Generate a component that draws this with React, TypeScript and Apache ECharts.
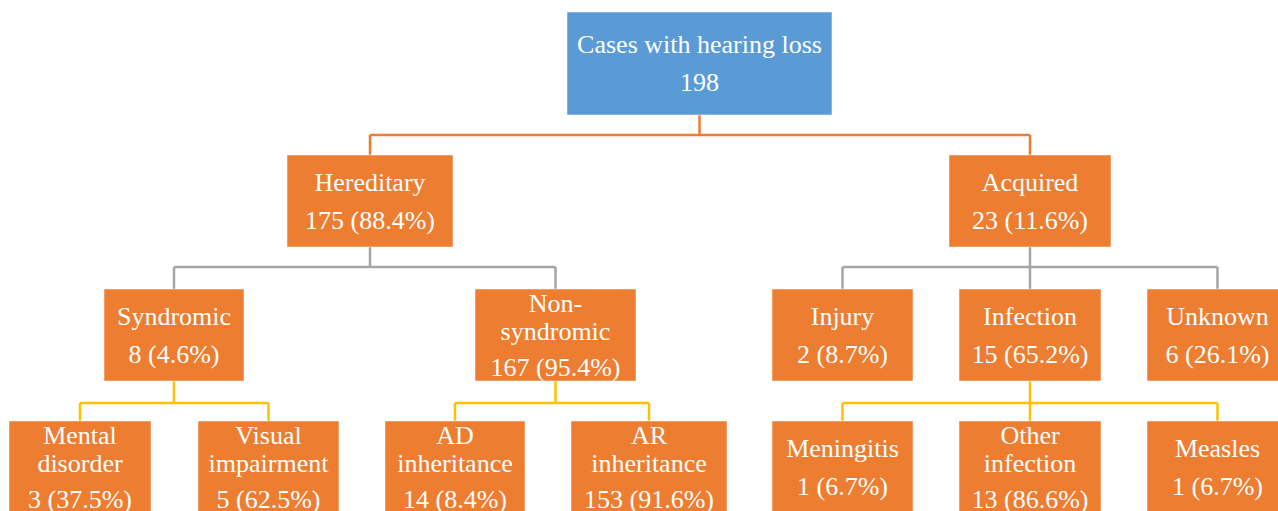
import React, { useEffect, useRef } from "react";
import * as echarts from "echarts";

// ---- data ----
const nodeNames = [
  "Cases with hearing loss",
  "Hereditary",
  "Acquired",
  "Syndromic",
  "Non-\nsyndromic",
  "Injury",
  "Infection",
  "Unknown",
  "Mental\ndisorder",
  "Visual\nimpairment",
  "AD\ninheritance",
  "AR\ninheritance",
  "Meningitis",
  "Other\ninfection",
  "Measles",
];
const nodeCounts = [198, 175, 23, 8, 167, 2, 15, 6, 3, 5, 14, 153, 1, 13, 1];
const nodePercents = [null, 88.4, 11.6, 4.6, 95.4, 8.7, 65.2, 26.1, 37.5, 62.5, 8.4, 91.6, 6.7, 86.6, 6.7];
const nodeParents = [-1, 0, 0, 1, 1, 2, 2, 2, 3, 3, 4, 4, 6, 6, 6];

// ---- layout (positions / sizes) ----
const nodeLevel = [0, 1, 1, 2, 2, 2, 2, 2, 3, 3, 3, 3, 3, 3, 3];
const boxSpan: [number, number][] = [
  [567, 832],
  [287, 453],
  [949, 1111],
  [104, 244],
  [475, 636],
  [772, 913],
  [959, 1101],
  [1147, 1288],
  [9, 151],
  [198, 339],
  [385, 525],
  [571, 727],
  [772, 913],
  [959, 1101],
  [1147, 1288],
];
const rowTop = [12, 155, 289, 421];
const rowHeight = [103, 92, 92, 92];
const busY = [135, 267, 403];
const connectorColor = ["#ED7D31", "#A5A5A5", "#FFC000"];

const FONT = "'Liberation Serif', 'Times New Roman', serif";

function buildGraphics() {
  const els: any[] = [];
  const cx = (i: number) => (boxSpan[i][0] + boxSpan[i][1]) / 2;

  // connectors
  const parents = Array.from(new Set(nodeParents.filter((p) => p >= 0)));
  parents.forEach((p) => {
    const kids = nodeParents.map((pp, i) => (pp === p ? i : -1)).filter((i) => i >= 0);
    const lvl = nodeLevel[p];
    const color = connectorColor[lvl];
    const y0 = rowTop[lvl] + rowHeight[lvl];
    const yb = busY[lvl];
    const y1 = rowTop[lvl + 1];
    const lineStyle = { stroke: color, lineWidth: 2.5 };
    els.push({ type: "line", shape: { x1: cx(p), y1: y0, x2: cx(p), y2: yb }, style: lineStyle });
    const xs = kids.map(cx);
    els.push({
      type: "line",
      shape: { x1: Math.min(...xs), y1: yb, x2: Math.max(...xs), y2: yb },
      style: lineStyle,
    });
    kids.forEach((k) => {
      els.push({ type: "line", shape: { x1: cx(k), y1: yb, x2: cx(k), y2: y1 }, style: lineStyle });
    });
  });

  // boxes
  nodeNames.forEach((name, i) => {
    const lvl = nodeLevel[i];
    const [x0, x1] = boxSpan[i];
    const top = rowTop[lvl];
    const h = rowHeight[lvl];
    els.push({
      type: "rect",
      shape: { x: x0, y: top, width: x1 - x0, height: h },
      style: { fill: i === 0 ? "#5B9BD5" : "#ED7D31", stroke: "rgba(255,255,255,0.5)", lineWidth: 1 },
    });
    const nameLines = name.split("\n");
    const valueText =
      nodePercents[i] == null ? String(nodeCounts[i]) : `${nodeCounts[i]} (${(nodePercents[i] as number).toFixed(1)}%)`;
    const offsets: number[] = [];
    nameLines.forEach((_, j) => offsets.push(j * 28));
    const last = offsets[offsets.length - 1];
    offsets.push(last + (nameLines.length > 1 ? 36 : 38));
    const texts = [...nameLines, valueText];
    const mid = (offsets[0] + offsets[offsets.length - 1]) / 2;
    const centerY = top + h / 2;
    texts.forEach((t, j) => {
      els.push({
        type: "text",
        style: {
          text: t,
          x: cx(i),
          y: centerY - mid + offsets[j],
          fill: "#ffffff",
          fontSize: 26,
          fontFamily: FONT,
          align: "center",
          verticalAlign: "middle",
        },
      });
    });
  });
  return els;
}

export default function App() {
  const ref = useRef<HTMLDivElement>(null);
  useEffect(() => {
    if (!ref.current) return;
    const chart = echarts.init(ref.current, null, { renderer: "svg" });
    chart.setOption({
      animation: false,
      backgroundColor: "#ffffff",
      graphic: { elements: buildGraphics() },
    });
    return () => chart.dispose();
  }, []);
  return (
    <div
      ref={ref}
      style={{ position: "fixed", left: 0, top: 0, width: 1278, height: 511, background: "#fff" }}
    />
  );
}
